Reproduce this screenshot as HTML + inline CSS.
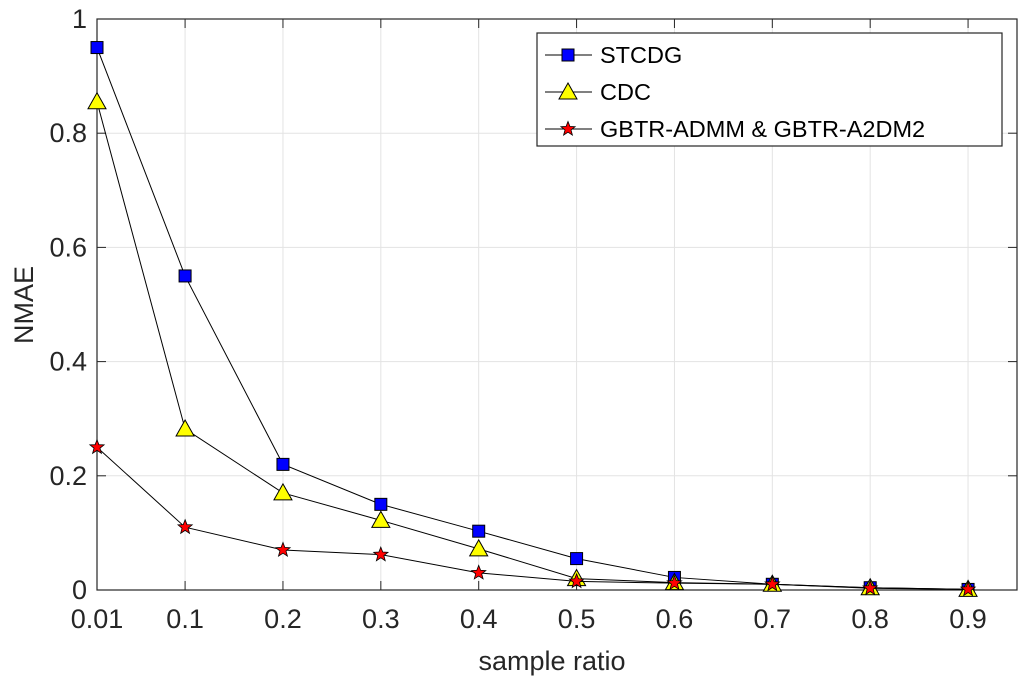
<!DOCTYPE html>
<html><head><meta charset="utf-8"><style>
body{margin:0;background:#fff;}
svg{display:block;font-family:"Liberation Sans",Arial,sans-serif;}
</style></head><body>
<svg id="chart" width="1024" height="685" viewBox="0 0 1024 685"></svg>
<script>
const xValues=[0.01,0.1,0.2,0.3,0.4,0.5,0.6,0.7,0.8,0.9];
const xTickLabels=["0.01","0.1","0.2","0.3","0.4","0.5","0.6","0.7","0.8","0.9"];
const yTicks=[0,0.2,0.4,0.6,0.8,1];
const yTickLabels=["0","0.2","0.4","0.6","0.8","1"];
const stcdg=[0.95,0.55,0.22,0.15,0.103,0.055,0.022,0.01,0.004,0.001];
const cdc=[0.855,0.282,0.17,0.122,0.072,0.02,0.013,0.01,0.004,0.001];
const gbtr=[0.25,0.11,0.07,0.062,0.03,0.015,0.012,0.01,0.003,0.001];
const seriesNames=["STCDG","CDC","GBTR-ADMM & GBTR-A2DM2"];

const NS="http://www.w3.org/2000/svg";
const svg=document.getElementById('chart');
const L=97,R=1017,T=19,B=590;
const xmin=0.01,xmax=0.95;
function xs(v){return L+(v-xmin)/(xmax-xmin)*(R-L);}
function ys(v){return B-v*(B-T);}
function mk(tag,attrs,parent){const e=document.createElementNS(NS,tag);for(const k in attrs)e.setAttribute(k,attrs[k]);(parent||svg).appendChild(e);return e;}

const grid=mk('g',{});


xValues.forEach(v=>{mk('line',{x1:xs(v),x2:xs(v),y1:T,y2:B,stroke:'#e3e3e3','stroke-width':1},grid);});
yTicks.forEach(v=>{mk('line',{x1:L,x2:R,y1:ys(v),y2:ys(v),stroke:'#e3e3e3','stroke-width':1},grid);});

const frame=mk('rect',{x:L,y:T,width:R-L,height:B-T,fill:'none',stroke:'#262626','stroke-width':1.2});



xValues.forEach((v,i)=>{
  mk('line',{x1:xs(v),x2:xs(v),y1:B,y2:B-9,stroke:'#262626'});
  mk('line',{x1:xs(v),x2:xs(v),y1:T,y2:T+9,stroke:'#262626'});
  const t=mk('text',{x:xs(v),y:B+38,'text-anchor':'middle','font-size':27,fill:'#262626'});
  t.textContent=xTickLabels[i];
  
  
});
yTicks.forEach((v,i)=>{
  mk('line',{x1:L,x2:L+9,y1:ys(v),y2:ys(v),stroke:'#262626'});
  mk('line',{x1:R,x2:R-9,y1:ys(v),y2:ys(v),stroke:'#262626'});
  const t=mk('text',{x:L-10,y:ys(v)+9,'text-anchor':'end','font-size':27,fill:'#262626'});
  t.textContent=yTickLabels[i];
  
  
});
const xt=mk('text',{x:(L+R)/2-5,y:670,'text-anchor':'middle','font-size':27,fill:'#262626'});
xt.textContent='sample ratio';


const yt=mk('text',{x:0,y:0,transform:'translate(33,305) rotate(-90)','text-anchor':'middle','font-size':27,fill:'#262626'});
yt.textContent='NMAE';



function marker(type,cx,cy,parent){
  if(type==='square') return mk('rect',{x:cx-6,y:cy-6,width:12,height:12,fill:'#0000ff',stroke:'#000','stroke-width':1},parent);
  if(type==='tri') return mk('polygon',{points:`${cx},${cy-9} ${cx+9},${cy+7} ${cx-9},${cy+7}`,fill:'#ffff00',stroke:'#000','stroke-width':1},parent);
  let p=[];for(let k=0;k<10;k++){const r=k%2?3.2:7.5;const a=-Math.PI/2+k*Math.PI/5;p.push((cx+r*Math.cos(a)).toFixed(1)+','+(cy+r*Math.sin(a)).toFixed(1));}
  return mk('polygon',{points:p.join(' '),fill:'#ff0000',stroke:'#000','stroke-width':0.8},parent);
}
const series=[[stcdg,'square','series-stcdg'],[cdc,'tri','series-cdc'],[gbtr,'star','series-gbtr']];
series.forEach(([data,type,name])=>{
  const g=mk('g',{});
  
  
  mk('polyline',{points:data.map((v,i)=>xs(xValues[i])+','+ys(v)).join(' '),fill:'none',stroke:'#000','stroke-width':1},g);
  data.forEach((v,i)=>{const m=marker(type,xs(xValues[i]),ys(v),g);
    
    });
});

const lg=mk('g',{});


mk('rect',{x:537,y:33,width:465,height:113,fill:'#fff',stroke:'#262626','stroke-width':1.2},lg);
const types=['square','tri','star'];
seriesNames.forEach((n,i)=>{
  const y=55+i*37;
  const e=mk('g',{},lg);
  
  
  mk('line',{x1:545,x2:592,y1:y,y2:y,stroke:'#000'},e);
  marker(types[i],568,y,e);
  const t=mk('text',{x:600,y:y+8,'font-size':23.5,fill:'#000'},e);
  t.textContent=n;
});
</script>
</body></html>
